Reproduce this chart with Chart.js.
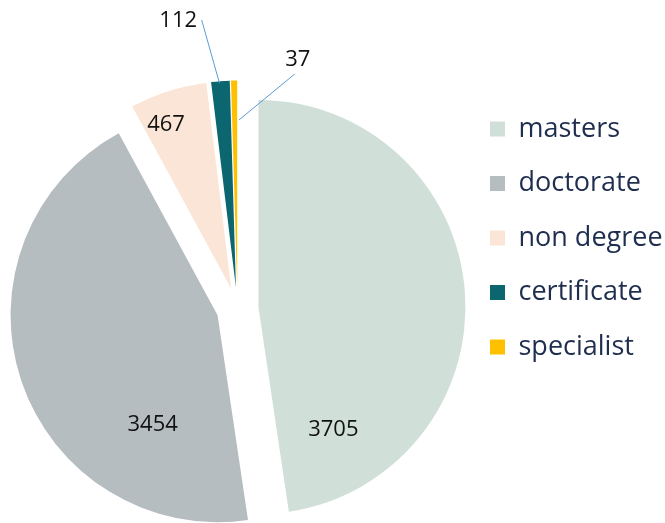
<!DOCTYPE html>
<html>
<head>
<meta charset="utf-8">
<script src="https://cdn.jsdelivr.net/npm/chart.js@4"></script>
<style>
  html, body { margin: 0; padding: 0; background: #fff; }
  #wrap { width: 665px; height: 523px; }
</style>
</head>
<body>
<div id="wrap"><canvas id="myChart" width="665" height="523"></canvas></div>
<script>
const categories = ["masters", "doctorate", "non degree", "certificate", "specialist"];
const counts = [3705, 3454, 467, 112, 37];
const sliceColors = ["#d0e0d9", "#b5bdc1", "#fbe5d6", "#0b6670", "#ffc000"];

// where each value label sits: [angle clockwise from 12 o'clock, distance from slice tip]
const labelSpots = [[148.6, 143.7], [210.7, 127.1], [338.3, 175.9], [347.8, 273.3], [14.9, 235.4]];
// leader lines for the thin slices: [from angle, from dist, to angle, to dist]
const leaders = [null, null, null, [352.7, 269.8, 355.4, 205], [15.1, 221.2, 0.6, 167.5]];

const EXPLODE = 21;

function tipOf(arc) {
  const mid = (arc.startAngle + arc.endAngle) / 2;
  return { x: arc.x + Math.cos(mid) * EXPLODE, y: arc.y + Math.sin(mid) * EXPLODE };
}

function polar(p, deg, dist) {
  const a = deg * Math.PI / 180;
  return { x: p.x + Math.sin(a) * dist, y: p.y - Math.cos(a) * dist };
}

// pulls every slice out from the centre along its middle angle
const explodePlugin = {
  id: "explode",
  beforeDatasetDraw(chart, args) {
    const ctx = chart.ctx;
    args.meta.data.forEach(arc => {
      const mid = (arc.startAngle + arc.endAngle) / 2;
      ctx.save();
      ctx.translate(Math.cos(mid) * EXPLODE, Math.sin(mid) * EXPLODE);
      arc.draw(ctx);
      ctx.restore();
    });
    return false;
  }
};

const valueLabels = {
  id: "valueLabels",
  afterDatasetsDraw(chart) {
    const ctx = chart.ctx;
    const meta = chart.getDatasetMeta(0);
    ctx.save();
    meta.data.forEach((arc, i) => {
      const tip = tipOf(arc);
      const ld = leaders[i];
      if (ld) {
        const a = polar(tip, ld[0], ld[1]);
        const b = polar(tip, ld[2], ld[3]);
        ctx.strokeStyle = "#5b9bd5";
        ctx.lineWidth = 1;
        ctx.beginPath();
        ctx.moveTo(a.x, a.y);
        ctx.lineTo(b.x, b.y);
        ctx.stroke();
      }
      const p = polar(tip, labelSpots[i][0], labelSpots[i][1]);
      ctx.fillStyle = "#111111";
      ctx.font = "22px 'Open Sans'";
      ctx.textAlign = "center";
      ctx.textBaseline = "middle";
      ctx.fillText(String(counts[i]), p.x, p.y);
    });
    ctx.restore();
  }
};

function createChart(canvasId) {
  const ctx = document.getElementById(canvasId).getContext("2d");
  new Chart(ctx, {
    type: "pie",
    data: {
      labels: categories,
      datasets: [{
        data: counts,
        backgroundColor: sliceColors,
        borderWidth: 0,
        radius: 207,
      }],
    },
    options: {
      responsive: false,
      animation: false,
      events: [],
      layout: {
        padding: { left: 12.5, right: 0, top: 94, bottom: 0 },
      },
      plugins: {
        tooltip: { enabled: false },
        legend: {
          position: "right",
          align: "start",
          maxWidth: 202.5,
          // empty title only used to lift the list a few pixels
          title: { display: true, text: "", font: { size: 1, lineHeight: 1 }, padding: { top: -7, bottom: 0 } },
          labels: {
            boxWidth: 15,
            boxHeight: 15,
            padding: 27.5,
            color: "#1f2e4f",
            font: { family: "'Open Sans'", size: 27 },
          },
        },
      },
    },
    plugins: [explodePlugin, valueLabels],
  });
}

createChart("myChart");
</script>
</body>
</html>
